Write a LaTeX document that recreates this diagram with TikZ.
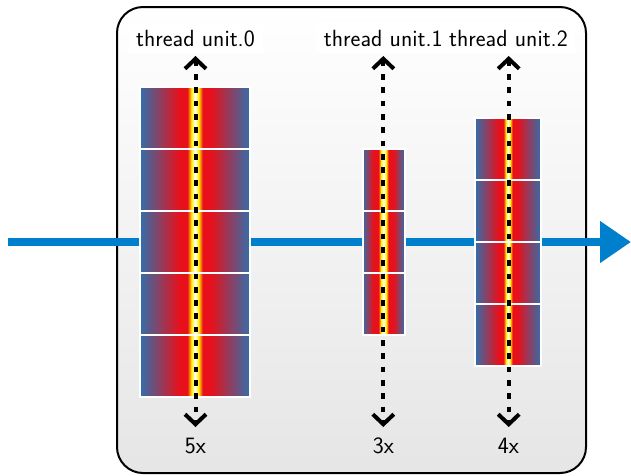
\documentclass[tikz,border=0pt]{standalone}
\usetikzlibrary{arrows.meta}
\definecolor{tblue}{RGB}{50,110,170}
\definecolor{tred}{RGB}{232,16,26}
\definecolor{tyel}{RGB}{255,238,0}
\definecolor{flowblue}{RGB}{0,128,204}
\pgfdeclarehorizontalshading{thrwide}{100bp}{color(0bp)=(tblue); color(25bp)=(tblue); color(43bp)=(tred); color(46.5bp)=(tred); color(48.4bp)=(tyel); color(50bp)=(white); color(51.6bp)=(tyel); color(53.5bp)=(tred); color(57bp)=(tred); color(75bp)=(tblue); color(100bp)=(tblue)}
\pgfdeclarehorizontalshading{thrnarrow}{100bp}{color(0bp)=(tblue); color(25bp)=(tblue); color(38bp)=(tred); color(44bp)=(tred); color(46.8bp)=(tyel); color(50bp)=(white); color(53.2bp)=(tyel); color(56bp)=(tred); color(62bp)=(tred); color(75bp)=(tblue); color(100bp)=(tblue)}
\begin{document}
\begin{tikzpicture}[x=1pt,y=-1pt,
  frame/.style={draw=black, line width=2pt, rounded corners=26pt, top color=white, bottom color=black!10},
  flow/.style={draw=flowblue, line width=8.5pt, -{Triangle[length=31pt,width=40pt]}},
  blockw/.style={shade, shading=thrwide, draw=white, line width=2pt, inner sep=0pt, outer sep=0pt, minimum height=62pt},
  blockn/.style={shade, shading=thrnarrow, draw=white, line width=2pt, inner sep=0pt, outer sep=0pt, minimum height=62pt},
  tu/.style={line width=4pt, dash pattern=on 5.7pt off 7.6pt, {Straight Barb[length=10pt,width=21pt]}-{Straight Barb[length=10pt,width=21pt]}},
  lab/.style={font=\fontsize{23.4}{28}\selectfont\sffamily, inner sep=0pt, anchor=base},
  cnt/.style={font=\fontsize{23.4}{28}\selectfont\sffamily, inner sep=0pt, anchor=base}]
\useasboundingbox (0,0) rectangle (631,475);
% frame
\path[frame] (117,7) rectangle (586,473);
% flow arrow
\coordinate (in) at (8,242);
\coordinate (out) at (631,242);
\draw[flow] (in) -- (out);
% blocks
\foreach \i in {1,...,5} \node[blockw, minimum width=110pt] (a\i) at (195, {242+(\i-3)*62}) {};
\foreach \i in {1,...,3} \node[blockn, minimum width=42pt] (b\i) at (383.5, {242+(\i-2)*62}) {};
\foreach \i in {1,...,4} \node[blockw, minimum width=66pt] (c\i) at (508, {242+(\i-2.5)*62}) {};
% label backgrounds
\fill[white] (129,23) rectangle (263,53);
\fill[white] (316,22) rectangle (575,53);
% labels
\node[lab] (l0) at (195.5,46) {thread unit.0};
\node[lab] (l1) at (383.3,46) {thread unit.1};
\node[lab] (l2) at (508.5,46) {thread unit.2};
\node[cnt] (n0) at (195.5,453) {5x};
\node[cnt] (n1) at (383.3,453) {3x};
\node[cnt] (n2) at (508.5,453) {4x};
% thread arrows
\coordinate (t0) at (195.5,56); \coordinate (d0) at (195.5,427);
\coordinate (t1) at (383.3,56); \coordinate (d1) at (383.3,427);
\coordinate (t2) at (508.7,56); \coordinate (d2) at (508.7,427);
\draw[tu] (t0) -- (d0);
\draw[tu] (t1) -- (d1);
\draw[tu] (t2) -- (d2);
\end{tikzpicture}
\end{document}
